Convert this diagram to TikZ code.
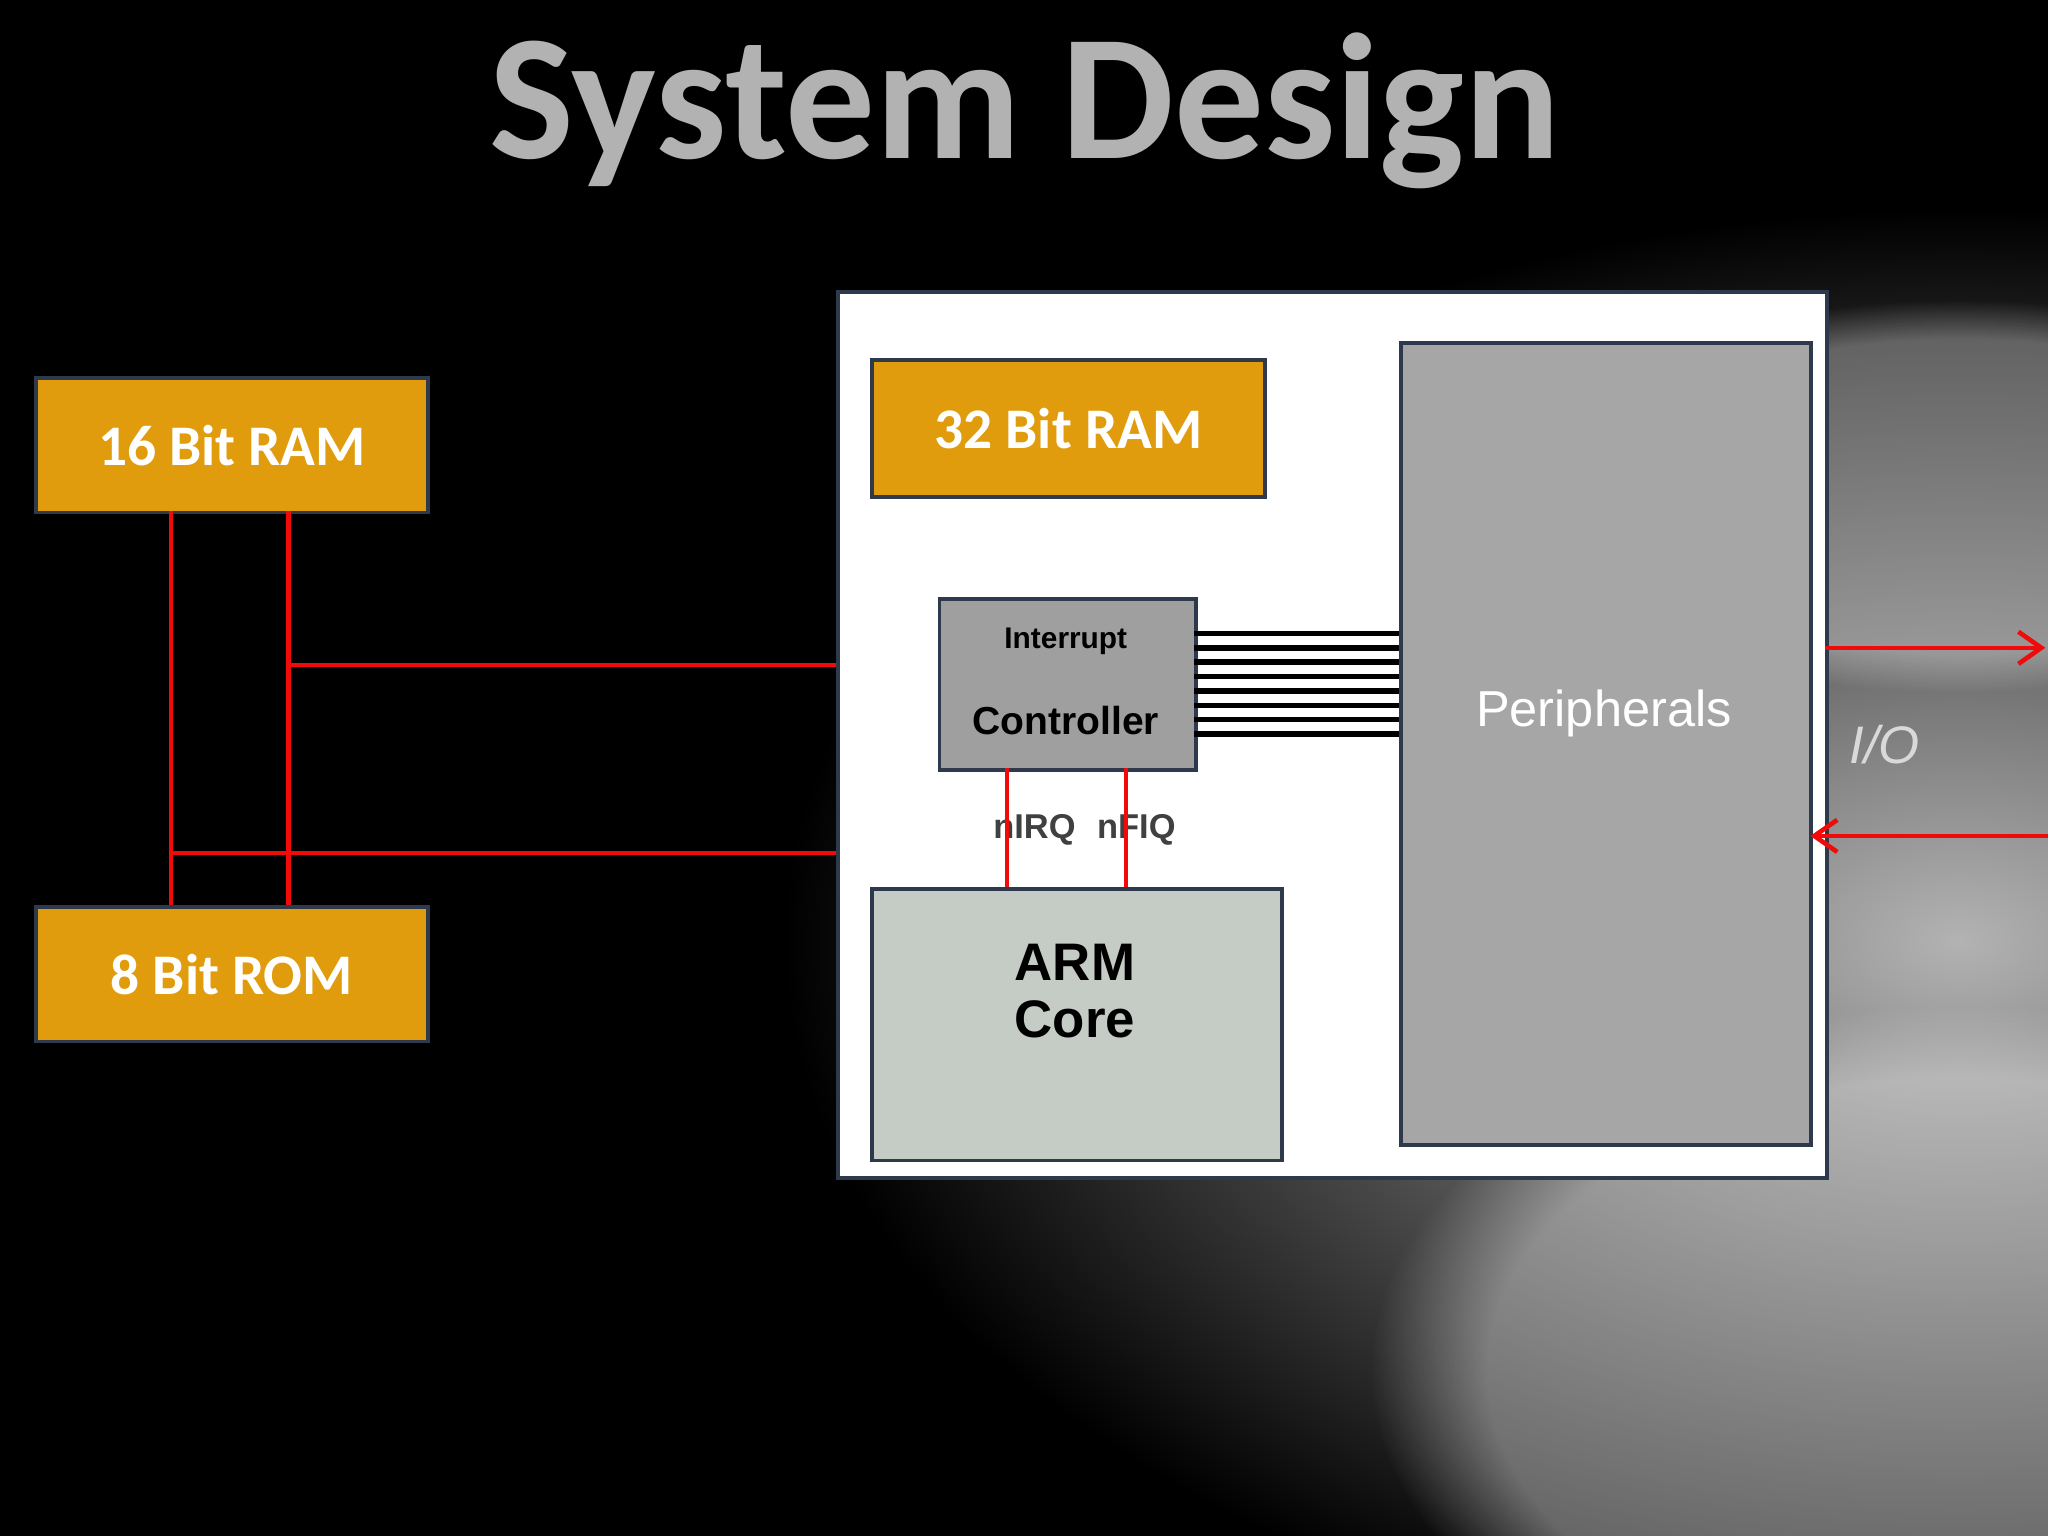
\documentclass[tikz,border=0pt]{standalone}
\usepackage{fontspec}
\setmainfont{Carlito}
\newfontfamily\arial{Liberation Sans}
\usetikzlibrary{arrows.meta,fadings}
\definecolor{org}{HTML}{E09C0C}
\definecolor{bd}{HTML}{2E3A4C}
\definecolor{redl}{HTML}{F00A0A}
\begin{document}
\begin{tikzpicture}[x=0.01cm,y=-0.01cm,
  orbox/.style={draw=bd,line width=0.8pt,fill=org,text=white,font=\bfseries\fontsize{12.5}{14}\selectfont},
  red/.style={draw=redl,line width=1pt},
  lab/.style={text=black!75,font=\arial\bfseries\fontsize{7.5}{9}\selectfont}]
\useasboundingbox (0,0) rectangle (1568,1176);
\fill[black] (0,0) rectangle (1568,1176);
\begin{scope}
\clip (0,0) rectangle (1568,1176);
\shade[inner color=black!30,outer color=black] (1500,720) ellipse (900 and 560);
\fill[white,opacity=0.35,path fading=circle with fuzzy edge 20 percent] (1500,1050) ellipse (450 and 280);
\fill[white,opacity=0.3,path fading=circle with fuzzy edge 20 percent] (1500,380) ellipse (350 and 150);
\end{scope}
\node[text=black!30,font=\bfseries\fontsize{39}{44}\selectfont] (title) at (785,85) {System Design};
\node[draw=bd,line width=0.8pt,fill=white,minimum width=7.57cm,minimum height=6.78cm,anchor=north west,inner sep=0] (chip) at (640,222) {};
\node[orbox,minimum width=3cm,minimum height=1.03cm,anchor=north west] (r16) at (26,288) {16 Bit RAM};
\node[orbox,minimum width=3cm,minimum height=1.03cm,anchor=north west] (r8) at (26,693) {8 Bit ROM};
\node[orbox,minimum width=3.01cm,minimum height=1.05cm,anchor=north west] (r32) at (666,274) {32 Bit RAM};
\node[draw=bd,line width=0.8pt,fill=black!35,minimum width=3.14cm,minimum height=6.14cm,anchor=north west] (per) at (1071,261) {};
\node[text=white,font=\arial\fontsize{11}{13}\selectfont] at (1228,546) {Peripherals};
\node[draw=bd,line width=0.8pt,fill=gray!75,minimum width=1.96cm,minimum height=1.31cm,anchor=north west] (ic) at (718,457) {};
\node[font=\arial\bfseries\fontsize{6.5}{8}\selectfont] at (816,491) {Interrupt};
\node[font=\arial\bfseries\fontsize{8.5}{10}\selectfont] at (816,552) {Controller};
\node[draw=bd,line width=0.8pt,fill={rgb,255:red,197;green,203;blue,197},minimum width=3.14cm,minimum height=2.08cm,anchor=north west] (arm) at (666,679) {};
\node[font=\arial\bfseries\fontsize{11.5}{12.5}\selectfont,align=center] at (823,759) {ARM\\Core};
\foreach \y in {485,496,507,518,529,540,551,562}
  \draw[black,line width=1.2pt] (914,\y) -- (1071,\y);
\node[lab] at (792,635) {nIRQ};
\node[lab] at (870,635) {nFIQ};
\draw[red] (771,588) -- (771,679);
\draw[red] (862,588) -- (862,679);
\draw[red] (131,391) -- (131,693);
\draw[red] (221,391) -- (221,693);
\draw[red] (221,509) -- (640,509);
\draw[red] (131,653) -- (640,653);
\draw[red,-{Straight Barb[length=5pt,width=7pt]}] (1397,496) -- (1566,496);
\draw[red,-{Straight Barb[length=5pt,width=7pt]}] (1568,640) -- (1386,640);
\node[text=black!15,font=\arial\itshape\fontsize{11.5}{14}\selectfont] at (1443,570) {I/O};
\end{tikzpicture}
\end{document}
